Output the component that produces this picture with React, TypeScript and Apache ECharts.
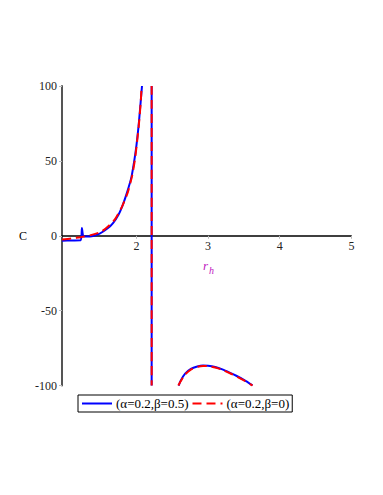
import React, { useEffect, useRef } from "react";
import * as echarts from "echarts";

const xTicks = [2, 3, 4, 5];
const yTicks = [-100, -50, 0, 50, 100];
const seriesNames = ["(α=0.2,β=0.5)", "(α=0.2,β=0)"];

const blueLeft: [number, number][] = [
  [0.962, -3.3], [1.1, -3.1], [1.222, -3.0], [1.24, 5.2], [1.262, -0.4], [1.35, -0.4],
  [1.488, 1.5], [1.6, 5], [1.674, 8.5], [1.75, 14], [1.813, 21], [1.87, 29], [1.93, 39],
  [1.97, 50], [2.0, 60], [2.03, 73], [2.05, 84], [2.068, 94], [2.078, 100],
];
const redLeft: [number, number][] = [
  [0.962, -2.5], [1.1, -1.8], [1.22, -0.9], [1.35, 0.3], [1.5, 2.5], [1.6, 6], [1.7, 11],
  [1.8, 19.5], [1.88, 29], [1.94, 40], [1.98, 51], [2.01, 63], [2.04, 77], [2.06, 89], [2.073, 100],
];
const asymptote: [number, number][] = [[2.213, 100], [2.213, -100]];
const blueRight: [number, number][] = [
  [2.59, -100], [2.62, -96.5], [2.68, -92], [2.76, -88.8], [2.85, -87.2], [2.93, -86.6],
  [3.0, -86.7], [3.1, -87.6], [3.2, -89.2], [3.3, -91.3], [3.4, -93.6], [3.5, -96.2], [3.62, -99.8],
];
const redRight: [number, number][] = [
  [2.585, -100], [2.62, -97], [2.68, -92.5], [2.76, -89.3], [2.85, -87.5], [2.93, -86.9],
  [3.0, -87], [3.1, -87.9], [3.2, -89.5], [3.3, -91.6], [3.4, -94], [3.5, -96.5], [3.62, -100],
];

const FONT = "Liberation Serif";

function joinSegments(...segs: [number, number][][]) {
  const out: any[] = [];
  segs.forEach((s, i) => {
    if (i > 0) out.push("-");
    s.forEach((p) => out.push(p));
  });
  return out;
}

export default function App() {
  const ref = useRef<HTMLDivElement>(null);
  useEffect(() => {
    if (!ref.current) return;
    const chart = echarts.init(ref.current, null, { renderer: "svg" });
    const gridH = 299.6;
    chart.setOption({
      animation: false,
      backgroundColor: "#fff",
      grid: { left: 54, top: 78, width: 289.4, height: gridH, containLabel: false },
      xAxis: {
        type: "value",
        min: 0.962,
        max: 5,
        offset: -gridH / 2,
        axisLine: { onZero: false, lineStyle: { color: "#000", width: 1.5 } },
        axisTick: { show: true, customValues: xTicks, length: 3, lineStyle: { color: "#bbb" } },
        axisLabel: { customValues: xTicks, color: "#222", fontFamily: FONT, fontSize: 12, margin: 4 },
        splitLine: { show: false },
      },
      yAxis: {
        type: "value",
        min: -100,
        max: 100,
        interval: 50,
        axisLine: { show: true, onZero: false, lineStyle: { color: "#555", width: 2 } },
        axisTick: { show: true, length: 3, lineStyle: { color: "#bbb" } },
        axisLabel: { color: "#222", fontFamily: FONT, fontSize: 12, margin: 5,
          formatter: (v: number) => (yTicks.includes(v) ? String(v) : "") },
        splitLine: { show: false },
      },
      legend: {
        left: 70,
        top: 387,
        orient: "horizontal",
        itemWidth: 30,
        itemHeight: 10,
        itemGap: 3,
        padding: [2, 3, 2, 3],
        borderColor: "#000",
        borderWidth: 1,
        backgroundColor: "#fff",
        itemStyle: { opacity: 0 },
        textStyle: { fontFamily: FONT, fontSize: 13, color: "#000", padding: [0, 0, 0, -1] },
        data: seriesNames,
      },
      graphic: [
        { type: "text", left: 11, top: 222, style: { text: "C", font: `12px "${FONT}"`, fill: "#000" } },
        {
          type: "text",
          left: 195,
          top: 251,
          style: {
            text: "{r|r}{h|h}",
            rich: {
              r: { fontFamily: FONT, fontStyle: "italic", fontSize: 13, fill: "#c020c0", color: "#c020c0" },
              h: { fontFamily: FONT, fontStyle: "italic", fontSize: 10, fill: "#c020c0", color: "#c020c0", padding: [9, 0, 0, 1] },
            },
          },
        },
      ],
      series: [
        {
          name: seriesNames[0],
          type: "line",
          data: joinSegments(blueLeft, asymptote, blueRight),
          symbol: "none",
          connectNulls: false,
          smooth: 0.2,
          lineStyle: { color: "#0000ff", width: 2 },
          itemStyle: { color: "#0000ff" },
        },
        {
          name: seriesNames[1],
          type: "line",
          data: joinSegments(redLeft, asymptote, redRight),
          symbol: "none",
          connectNulls: false,
          smooth: 0.2,
          lineStyle: { color: "#ff0000", width: 2, type: [9, 5] },
          itemStyle: { color: "#ff0000" },
        },
      ],
    });
    return () => chart.dispose();
  }, []);
  return <div ref={ref} style={{ width: 375, height: 487 }} />;
}
